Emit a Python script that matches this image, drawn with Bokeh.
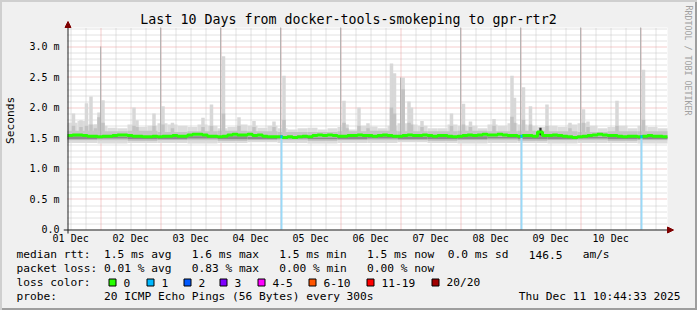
import re
import pandas as pd
from bokeh.plotting import figure
from bokeh.layouts import column, row
from bokeh.models import FixedTicker, DatetimeTickFormatter, CustomJSTickFormatter, Range1d
from bokeh.core.properties import value
from bokeh.embed import file_html
from bokeh.resources import INLINE

# ---------------- data ----------------
start_time = "2025-12-01 10:44:33"
end_time = "2025-12-11 10:44:33"
title_text = "Last 10 Days from docker-tools-smokeping to gpr-rtr2"
y_major_ticks = [0.0, 0.5, 1.0, 1.5, 2.0, 2.5, 3.0]
label_days = ["2025-12-01", "2025-12-02", "2025-12-03", "2025-12-04", "2025-12-05",
              "2025-12-06", "2025-12-07", "2025-12-08", "2025-12-09", "2025-12-10"]

# median rtt (ms), 2-hour bins
median_ms = [1.54, 1.55, 1.55, 1.54, 1.53, 1.53, 1.52, 1.53, 1.53, 1.54,
             1.55, 1.55, 1.54, 1.53, 1.53, 1.52, 1.52, 1.53, 1.52, 1.53,
             1.53, 1.54, 1.53, 1.53, 1.55, 1.56, 1.56, 1.55, 1.53, 1.53,
             1.52, 1.53, 1.55, 1.56, 1.55, 1.55, 1.56, 1.54, 1.55, 1.53,
             1.52, 1.52, 1.52, 1.51, 1.52, 1.51, 1.52, 1.53, 1.52, 1.54,
             1.55, 1.54, 1.55, 1.54, 1.53, 1.53, 1.54, 1.54, 1.55, 1.54,
             1.54, 1.53, 1.54, 1.55, 1.54, 1.53, 1.53, 1.54, 1.55, 1.54,
             1.54, 1.55, 1.54, 1.53, 1.54, 1.54, 1.53, 1.52, 1.53, 1.54,
             1.55, 1.54, 1.55, 1.56, 1.55, 1.55, 1.56, 1.55, 1.54, 1.54,
             1.53, 1.54, 1.54, 1.53, 1.60, 1.54, 1.54, 1.55, 1.54, 1.53,
             1.52, 1.51, 1.52, 1.53, 1.54, 1.55, 1.56, 1.55, 1.54, 1.54,
             1.53, 1.52, 1.53, 1.53, 1.52, 1.53, 1.54, 1.53, 1.53, 1.52]

# upper edge of the light smoke (ms), 4-hour bins
smoke_top = [1.75, 1.78, 1.72, 1.70, 1.67, 1.66, 1.72, 1.68, 1.70, 1.74, 1.72, 1.70,
             1.68, 1.72, 1.70, 1.66, 1.68, 1.72, 1.70, 1.67, 1.70, 1.66, 1.64, 1.66, 1.67,
             1.64, 1.66, 1.68, 1.64, 1.70, 1.69, 1.66, 1.70, 1.74, 1.72, 1.70, 1.66,
             1.66, 1.72, 1.70, 1.70, 1.66, 1.72, 1.70, 1.74, 1.72, 1.70, 1.68, 1.70,
             1.68, 1.72, 1.74, 1.70, 1.66, 1.68, 1.70, 1.66, 1.70, 1.68, 1.66]

# smoke bands (ms), 12-hour bins
smoke_low = [1.42, 1.41, 1.42, 1.42, 1.41, 1.42, 1.43, 1.42, 1.41, 1.42,
             1.42, 1.43, 1.42, 1.41, 1.42, 1.42, 1.41, 1.42, 1.42, 1.41]
band_low = [1.46, 1.46, 1.45, 1.46, 1.46, 1.45, 1.46, 1.46, 1.45, 1.46,
            1.46, 1.46, 1.45, 1.46, 1.46, 1.45, 1.46, 1.46, 1.45, 1.46]
band_high = [1.62, 1.61, 1.62, 1.60, 1.61, 1.62, 1.61, 1.60, 1.60, 1.61,
             1.62, 1.61, 1.61, 1.62, 1.61, 1.62, 1.61, 1.60, 1.61, 1.61]
core_low = [1.48, 1.49, 1.48, 1.48, 1.49, 1.48, 1.48, 1.49, 1.48, 1.48,
            1.49, 1.48, 1.48, 1.48, 1.49, 1.48, 1.48, 1.49, 1.48, 1.48]
core_high = [1.53, 1.52, 1.53, 1.52, 1.53, 1.53, 1.52, 1.52, 1.51, 1.52,
             1.53, 1.52, 1.53, 1.53, 1.52, 1.53, 1.53, 1.52, 1.52, 1.52]

# isolated smoke spikes
spike_time = ["2025-12-01 13:08", "2025-12-01 16:08", "2025-12-01 18:20", "2025-12-01 20:08",
              "2025-12-01 21:56", "2025-12-01 23:20", "2025-12-02 00:56", "2025-12-02 13:20",
              "2025-12-02 14:32", "2025-12-02 21:20", "2025-12-03 00:56", "2025-12-03 04:44",
              "2025-12-03 16:56", "2025-12-03 20:20", "2025-12-04 01:08", "2025-12-04 07:20",
              "2025-12-04 13:20", "2025-12-04 21:20", "2025-12-05 01:20", "2025-12-06 01:20",
              "2025-12-06 02:32", "2025-12-06 07:20", "2025-12-06 10:56", "2025-12-06 20:20",
              "2025-12-06 21:32", "2025-12-07 01:00", "2025-12-07 03:20", "2025-12-07 04:20",
              "2025-12-07 08:32", "2025-12-07 20:20", "2025-12-08 01:08", "2025-12-08 03:56",
              "2025-12-08 13:20", "2025-12-08 20:32", "2025-12-08 21:32", "2025-12-09 01:08",
              "2025-12-09 03:56", "2025-12-09 10:32", "2025-12-09 19:44", "2025-12-10 01:08",
              "2025-12-10 02:56", "2025-12-10 14:32", "2025-12-11 01:08"]
spike_top = [1.90, 1.79, 2.07, 2.18, 1.72, 1.92, 2.12, 2.00, 1.79, 1.90,
             2.02, 1.75, 1.83, 2.05, 2.84, 1.84, 1.78, 1.77, 2.52, 2.11,
             1.72, 2.00, 1.74, 2.72, 2.56, 2.49, 2.10, 2.00, 1.78, 1.90,
             2.06, 1.77, 1.81, 2.52, 2.16, 2.33, 2.02, 2.05, 1.75, 1.97,
             1.77, 2.11, 2.62]
spike_mid = [1.70, 1.68, 1.70, 1.72, 1.66, 1.84, 1.75, 1.70, 1.68, 1.70,
             1.72, 1.66, 1.68, 1.70, 1.90, 1.70, 1.68, 1.68, 1.80, 1.75,
             1.66, 1.70, 1.66, 2.00, 1.90, 2.30, 1.75, 1.72, 1.68, 1.70,
             1.72, 1.68, 1.70, 1.85, 1.75, 1.80, 1.72, 1.70, 1.66, 1.75,
             1.68, 1.70, 1.80]

# tall thin spikes around midnight
tall_time = ["2025-12-02 00:00", "2025-12-03 00:00", "2025-12-04 00:00", "2025-12-05 00:00",
             "2025-12-06 00:00", "2025-12-07 00:00", "2025-12-08 00:00", "2025-12-09 00:00",
             "2025-12-10 00:00", "2025-12-11 00:00"]
tall_top = [3.0, 3.4, 3.4, 3.4, 3.4, 2.49, 3.4, 3.4, 3.4, 3.4]

# dense dark smoke blip
dark_time = ["2025-12-09 07:56"]
dark_low = [1.54]
dark_top = [1.67]

# packet loss events
loss_time = ["2025-12-05 00:20", "2025-12-09 00:20", "2025-12-11 00:20"]
loss_pings = [1, 1, 1]

legend_rtt = "median rtt:  1.5 ms avg   1.6 ms max   1.5 ms min   1.5 ms now  0.0 ms sd   146.5   am/s"
legend_loss = "packet loss: 0.01 % avg   0.83 % max   0.00 % min   0.00 % now"
legend_color = "loss color:"
loss_labels = ["0", "1", "2", "3", "4-5", "6-10", "11-19", "20/20"]
loss_colors = ["#26ff00", "#00b8ff", "#0059ff", "#7e00ff", "#ff00ff", "#ff5500", "#ff0000", "#a10000"]
probe_text = "probe:       20 ICMP Echo Pings (56 Bytes) every 300s"
stamp_text = "Thu Dec 11 10:44:33 2025"
watermark = "RRDTOOL / TOBI OETIKER"

# ---------------- layout constants (pixels) ----------------
W, H = 697, 310
STRIP_W = 20            # left strip holding the axis title
TOP_H = 248             # height of the chart row
FRAME_L = 63            # frame left (canvas px)
ORIGIN_X, ORIGIN_Y = 67, 229   # pixel of (start_time, 0)
DATA_R, DATA_T = 667, 27        # right / top edge of the data area
FRAME_B = 234
PX_PER_MS = 61.0
HOUR = 3600000.0
FONT = "DejaVu Sans Mono"
LEG_SIZE = "11.2px"
CHAR_W = 6.74


def ms(t):
    return pd.Timestamp(t).value / 1e6


t0, t1 = ms(start_time), ms(end_time)
mpp = (t1 - t0) / (DATA_R - ORIGIN_X)     # ms of time per pixel
vpp = 1.0 / PX_PER_MS                      # ms of rtt per pixel
y_top = (ORIGIN_Y - DATA_T) * vpp


def px_x(cx):
    return t0 + (cx - ORIGIN_X) * mpp


def px_y(cy):
    return (ORIGIN_Y - cy) * vpp


def snap_x(t):
    return px_x(round(ORIGIN_X + (t - t0) / mpp) + 0.5)


def snap_y(v):
    return px_y(round(ORIGIN_Y - v * PX_PER_MS) + 0.5)


def clean(fig):
    fig.background_fill_color = None
    fig.border_fill_color = None
    fig.outline_line_color = None
    fig.grid.visible = False


p = figure(width=W - STRIP_W, height=TOP_H, x_axis_type="datetime", title=None,
           x_range=Range1d(px_x(FRAME_L), px_x(W)),
           y_range=Range1d(px_y(FRAME_B), px_y(0)),
           output_backend="svg", toolbar_location=None,
           min_border_left=FRAME_L - STRIP_W, min_border_right=0,
           min_border_top=0, min_border_bottom=TOP_H - FRAME_B)
clean(p)

# axes (labels only; rules drawn as lines below)
xa = p.xaxis[0]
xa.ticker = FixedTicker(ticks=[ms(d) + 12 * HOUR for d in label_days])
fmt = "%d %b"
xa.formatter = DatetimeTickFormatter(milliseconds=fmt, seconds=fmt, minsec=fmt, minutes=fmt,
                                     hourmin=fmt, hours=fmt, days=fmt, months=fmt, years=fmt)
ya = p.yaxis[0]
ya.ticker = FixedTicker(ticks=y_major_ticks)
ya.formatter = CustomJSTickFormatter(code="return tick == 0 ? '0.0' : tick.toFixed(1) + ' m';")
for ax in (xa, ya):
    ax.axis_line_color = None
    ax.major_tick_line_color = None
    ax.minor_tick_line_color = None
    ax.major_tick_out = 0
    ax.major_tick_in = 0
    ax.major_label_text_font = FONT
    ax.major_label_text_font_size = "10px"
    ax.major_label_text_color = "black"
xa.major_label_standoff = -2
ya.major_label_standoff = 4

# canvas (white data area)
p.quad(left=[t0], right=[t1], bottom=[0], top=[y_top], fill_color="white", line_color=None)

# grid (snapped to pixel centres so the dots stay crisp)
midnights = [ms(d) for d in pd.date_range("2025-12-02", "2025-12-11", freq="D")]
six_hours = [ms(d) for d in pd.date_range("2025-12-01 12:00", "2025-12-11 06:00", freq="6h")
             if d.hour != 0]
y_minor = [round(i * 0.1, 1) for i in range(1, 34) if i % 5 != 0]
minor_c, major_c = "#c4c4c4", "#eb9a9a"
gx_minor = [snap_x(t) for t in six_hours]
gx_major = [snap_x(t) for t in midnights]
gy_minor = [snap_y(v) for v in y_minor]
gy_major = [snap_y(v) for v in y_major_ticks[1:]]
p.segment(x0=gx_minor, x1=gx_minor, y0=0, y1=y_top, line_color=minor_c, line_dash="1 1")
p.segment(x0=t0, x1=t1, y0=gy_minor, y1=gy_minor, line_color=minor_c, line_dash="1 1")
p.segment(x0=gx_major, x1=gx_major, y0=0, y1=y_top, line_color=major_c, line_dash="1 1")
p.segment(x0=t0, x1=t1, y0=gy_major, y1=gy_major, line_color=major_c, line_dash="1 1")

# ---------------- smoke ----------------
b12 = [t0 + i * 12 * HOUR for i in range(len(smoke_low) + 1)]
b4 = [t0 + i * 4 * HOUR for i in range(len(smoke_top) + 1)]
p.quad(left=b12[:-1], right=b12[1:], bottom=smoke_low, top=band_low,
       fill_color="#dcdcdc", line_color=None)
p.quad(left=b4[:-1], right=b4[1:], bottom=[1.5] * len(smoke_top), top=smoke_top,
       fill_color="#dcdcdc", line_color=None)
sx = [ms(t) for t in spike_time]
p.vbar(x=sx, width=1.4 * HOUR, bottom=1.5, top=spike_top, fill_color="#d8d8d8", line_color=None)
p.vbar(x=sx, width=1.4 * HOUR, bottom=1.5, top=spike_mid, fill_color="#c2c2c2", line_color=None)
p.quad(left=b12[:-1], right=b12[1:], bottom=band_low, top=band_high,
       fill_color="#c4c4c4", line_color=None)
p.vbar(x=[ms(t) for t in tall_time], width=0.45 * HOUR, bottom=1.5,
       top=[min(v, y_top) for v in tall_top], fill_color="#b0b0b0", line_color=None)
p.quad(left=b12[:-1], right=b12[1:], bottom=core_low, top=core_high,
       fill_color="#8a8a8a", line_color=None)
p.vbar(x=[ms(t) for t in dark_time], width=0.9 * HOUR, bottom=dark_low, top=dark_top,
       fill_color="#303030", line_color=None)

# loss lines
b2 = [t0 + i * 2 * HOUR for i in range(len(median_ms) + 1)]
lx = [ms(t) for t in loss_time]
ltop = [median_ms[min(int((x - t0) // (2 * HOUR)), len(median_ms) - 1)] for x in lx]
p.vbar(x=lx, width=0.8 * HOUR, bottom=0, top=ltop, fill_color="#9ad9f7", line_color=None)

# median line
p.step(x=b2, y=median_ms + [median_ms[-1]], mode="after", line_color="#26ff00", line_width=3)
p.vbar(x=lx, width=0.8 * HOUR, bottom=[v - 0.025 for v in ltop], top=[v + 0.025 for v in ltop],
       fill_color=[loss_colors[n] for n in loss_pings], line_color=None)

# axis rules and arrows
axis_c, head_c = "#1f1f1f", "#7f0000"
ax_x, ax_y = snap_x(t0), snap_y(0)
p.segment(x0=[px_x(ORIGIN_X - 4), ax_x], x1=[t1, ax_x], y0=[ax_y, px_y(ORIGIN_Y + 4)],
          y1=[ax_y, y_top], line_color=axis_c, line_width=1)
p.patch(x=[t1, t1, t1 + 6 * mpp], y=[ax_y + 3 * vpp, ax_y - 3 * vpp, ax_y],
        fill_color=head_c, line_color=head_c)
p.patch(x=[ax_x - 3 * mpp, ax_x + 3 * mpp, ax_x], y=[y_top, y_top, y_top + 6 * vpp],
        fill_color=head_c, line_color=head_c)

# title and watermark
p.text(x=[px_x(348)], y=[px_y(19)], text=[title_text], text_font=value(FONT),
       text_font_size=value("13.3px"), text_align="center", text_baseline="middle",
       text_color="black")
p.text(x=[px_x(688)], y=[px_y(5)], text=[watermark], text_font=value(FONT),
       text_font_size=value("8.3px"), text_align="left", text_baseline="middle",
       text_color="#a0a0a0", angle=-1.5708)

# ---------------- left strip: axis title ----------------
s = figure(width=STRIP_W, height=TOP_H, x_range=Range1d(0, STRIP_W), y_range=Range1d(TOP_H, 0),
           output_backend="svg", toolbar_location=None, title=None,
           min_border_left=0, min_border_right=0, min_border_top=0, min_border_bottom=0)
clean(s)
s.axis.visible = False
s.text(x=[10], y=[127], text=["Seconds"], text_font=value(FONT), text_font_size=value(LEG_SIZE),
       text_align="center", text_baseline="middle", text_color="black", angle=1.5708)

# ---------------- legend ----------------
g = figure(width=W, height=H - TOP_H, x_range=Range1d(0, W), y_range=Range1d(H, TOP_H),
           output_backend="svg", toolbar_location=None, title=None,
           min_border_left=0, min_border_right=0, min_border_top=0, min_border_bottom=0)
clean(g)
g.axis.visible = False

# monospace columns: each run of text is placed at its character column
cx, cy, ct = [], [], []
for line, yy in zip([legend_rtt, legend_loss, legend_color, probe_text], [254, 268, 282, 296]):
    for m in re.finditer(r"\S+(?: \S+)*", line):
        cx.append(16 + m.start() * CHAR_W)
        cy.append(yy)
        ct.append(m.group(0))
g.text(x=cx, y=cy, text=ct, text_font=value(FONT), text_font_size=value(LEG_SIZE),
       text_align="left", text_baseline="middle", text_color="black")
g.text(x=[680], y=[296], text=[stamp_text], text_font=value(FONT),
       text_font_size=value(LEG_SIZE), text_align="right", text_baseline="middle",
       text_color="black")
box_x = [108, 146, 183, 219, 257, 308, 366, 431]
label_x = [123, 161, 198, 234, 272, 323, 381, 446]
g.quad(left=[b + 0.5 for b in box_x], right=[b + 7.5 for b in box_x], top=[278.5] * 8,
       bottom=[285.5] * 8, fill_color=loss_colors, line_color="black", line_width=1)
g.text(x=label_x, y=[282] * 8, text=loss_labels, text_font=value(FONT),
       text_font_size=value(LEG_SIZE), text_align="left", text_baseline="middle",
       text_color="black")

layout = column(row(s, p, spacing=0), g, spacing=0)
layout.styles = {"background-color": "#f0f0f0",
                 "box-shadow": "inset 2px 2px 0 #cfcfcf, inset -2px -2px 0 #9e9e9e"}

open("out.html", "w").write(file_html(layout, INLINE))
